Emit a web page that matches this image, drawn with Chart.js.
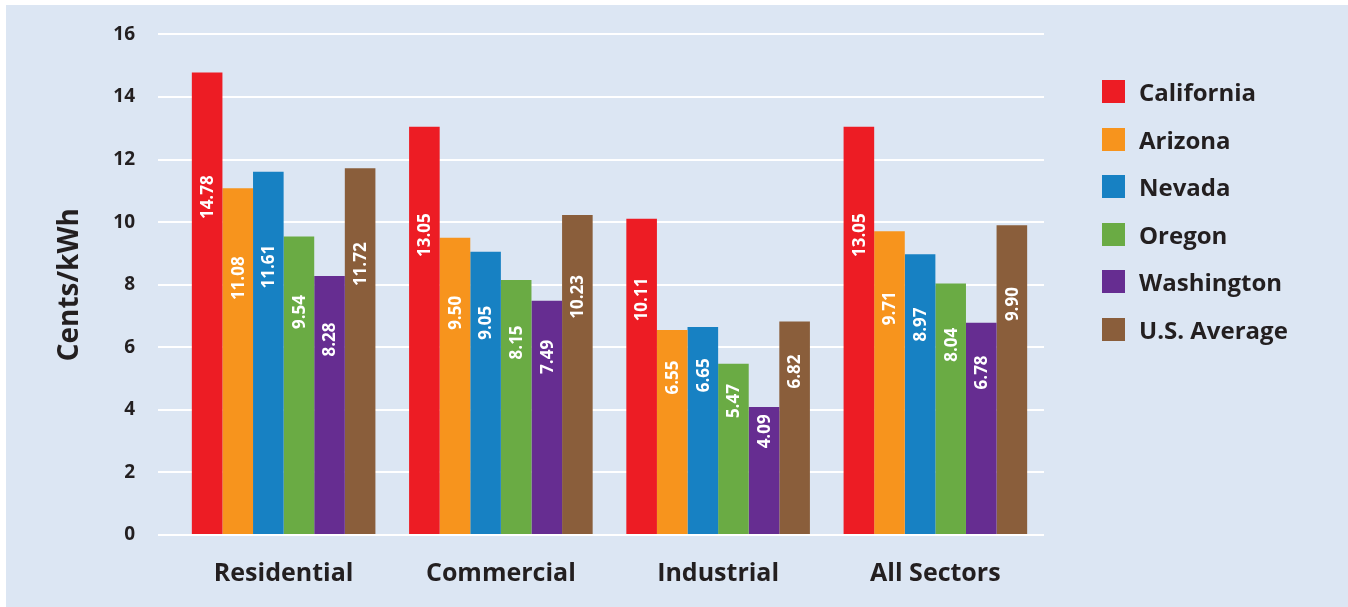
<!DOCTYPE html>
<html>
<head>
<meta charset="utf-8">
<script src="https://cdn.jsdelivr.net/npm/chart.js@4/dist/chart.umd.min.js"></script>
<style>
  html, body { margin: 0; padding: 0; background: #ffffff; width: 1348px; height: 607px; overflow: hidden; }
  #panel { position: absolute; left: 6px; top: 5px; right: 0; bottom: 0; background: #dce6f3; }
  #wrap { position: absolute; left: 0; top: 0; width: 1348px; height: 607px; }
  #legend { position: absolute; left: 1102px; top: 80px; font-family: "Open Sans", sans-serif; font-weight: 700; font-size: 24px; color: #231f20; }
  .li { position: absolute; left: 0; height: 24px; white-space: nowrap; }
  .sw { position: absolute; left: 0; top: 0; width: 23px; height: 23px; }
  .tx { position: absolute; left: 37px; top: -5px; line-height: 33px; }
</style>
</head>
<body>
<div id="panel"></div>
<div id="wrap"><canvas id="c" width="1348" height="607"></canvas></div>
<div id="legend"></div>
<script>
const categories = ["Residential", "Commercial", "Industrial", "All Sectors"];
const seriesNames = ["California", "Arizona", "Nevada", "Oregon", "Washington", "U.S. Average"];
const california = [14.78, 13.05, 10.11, 13.05];
const arizona    = [11.08, 9.50, 6.55, 9.71];
const nevada     = [11.61, 9.05, 6.65, 8.97];
const oregon     = [9.54, 8.15, 5.47, 8.04];
const washington = [8.28, 7.49, 4.09, 6.78];
const usAverage  = [11.72, 10.23, 6.82, 9.90];
const yTicks = [0, 2, 4, 6, 8, 10, 12, 14, 16];
const colors = ["#ed1c24", "#f7941d", "#1781c3", "#6aab44", "#662d91", "#8a5e3b"];

const seriesValues = [california, arizona, nevada, oregon, washington, usAverage];
const FONT = '"Open Sans", sans-serif';
const DARK = '#231f20';

const datasets = seriesNames.map((name, i) => ({
  label: name,
  data: seriesValues[i],
  backgroundColor: colors[i],
  borderWidth: 0,
  barPercentage: 1.0,
  categoryPercentage: 0.845
}));

const barLabels = {
  id: 'barLabels',
  afterDatasetsDraw(chart) {
    const ctx = chart.ctx;
    const yScale = chart.scales.y;
    ctx.save();
    ctx.fillStyle = '#ffffff';
    ctx.font = '700 17px ' + FONT;
    ctx.textAlign = 'center';
    ctx.textBaseline = 'middle';
    chart.data.datasets.forEach((ds, di) => {
      const meta = chart.getDatasetMeta(di);
      meta.data.forEach((bar, idx) => {
        const v = ds.data[idx];
        const yc = yScale.getPixelForValue(0.7 * v + 0.45);
        ctx.save();
        ctx.translate(bar.x, yc);
        ctx.rotate(-Math.PI / 2);
        ctx.fillText(v.toFixed(2), 0, 1);
        ctx.restore();
      });
    });
    ctx.restore();
  }
};

new Chart(document.getElementById('c'), {
  type: 'bar',
  data: { labels: categories, datasets },
  options: {
    responsive: false,
    animation: false,
    devicePixelRatio: 1,
    layout: { padding: { left: 0, right: 304, top: 28, bottom: 19 } },
    plugins: { legend: { display: false }, tooltip: { enabled: false } },
    scales: {
      x: {
        afterFit(scale) { scale.height = 53; },
        grid: { display: false, drawTicks: false },
        border: { display: false },
        ticks: { color: DARK, font: { family: FONT, weight: '700', size: 25 }, padding: 24 }
      },
      y: {
        min: 0, max: 16,
        afterFit(scale) { scale.width = 175; },
        afterBuildTicks(scale) { scale.ticks = yTicks.map(v => ({ value: v })); },
        grid: { color: '#ffffff', lineWidth: 2, drawTicks: true, tickLength: 17, tickColor: '#ffffff' },
        border: { display: false },
        ticks: { color: DARK, font: { family: FONT, weight: '700', size: 19 }, padding: 23 },
        title: { display: true, text: 'Cents/kWh', color: DARK, font: { family: FONT, weight: '700', size: 28 }, padding: { top: 53, bottom: 0 } }
      }
    }
  },
  plugins: [barLabels]
});

const legend = document.getElementById('legend');
seriesNames.forEach((name, i) => {
  const item = document.createElement('div');
  item.className = 'li';
  item.style.top = (i * 47.6) + 'px';
  const sw = document.createElement('div');
  sw.className = 'sw';
  sw.style.background = colors[i];
  const tx = document.createElement('div');
  tx.className = 'tx';
  tx.textContent = name;
  item.appendChild(sw);
  item.appendChild(tx);
  legend.appendChild(item);
});
</script>
</body>
</html>
